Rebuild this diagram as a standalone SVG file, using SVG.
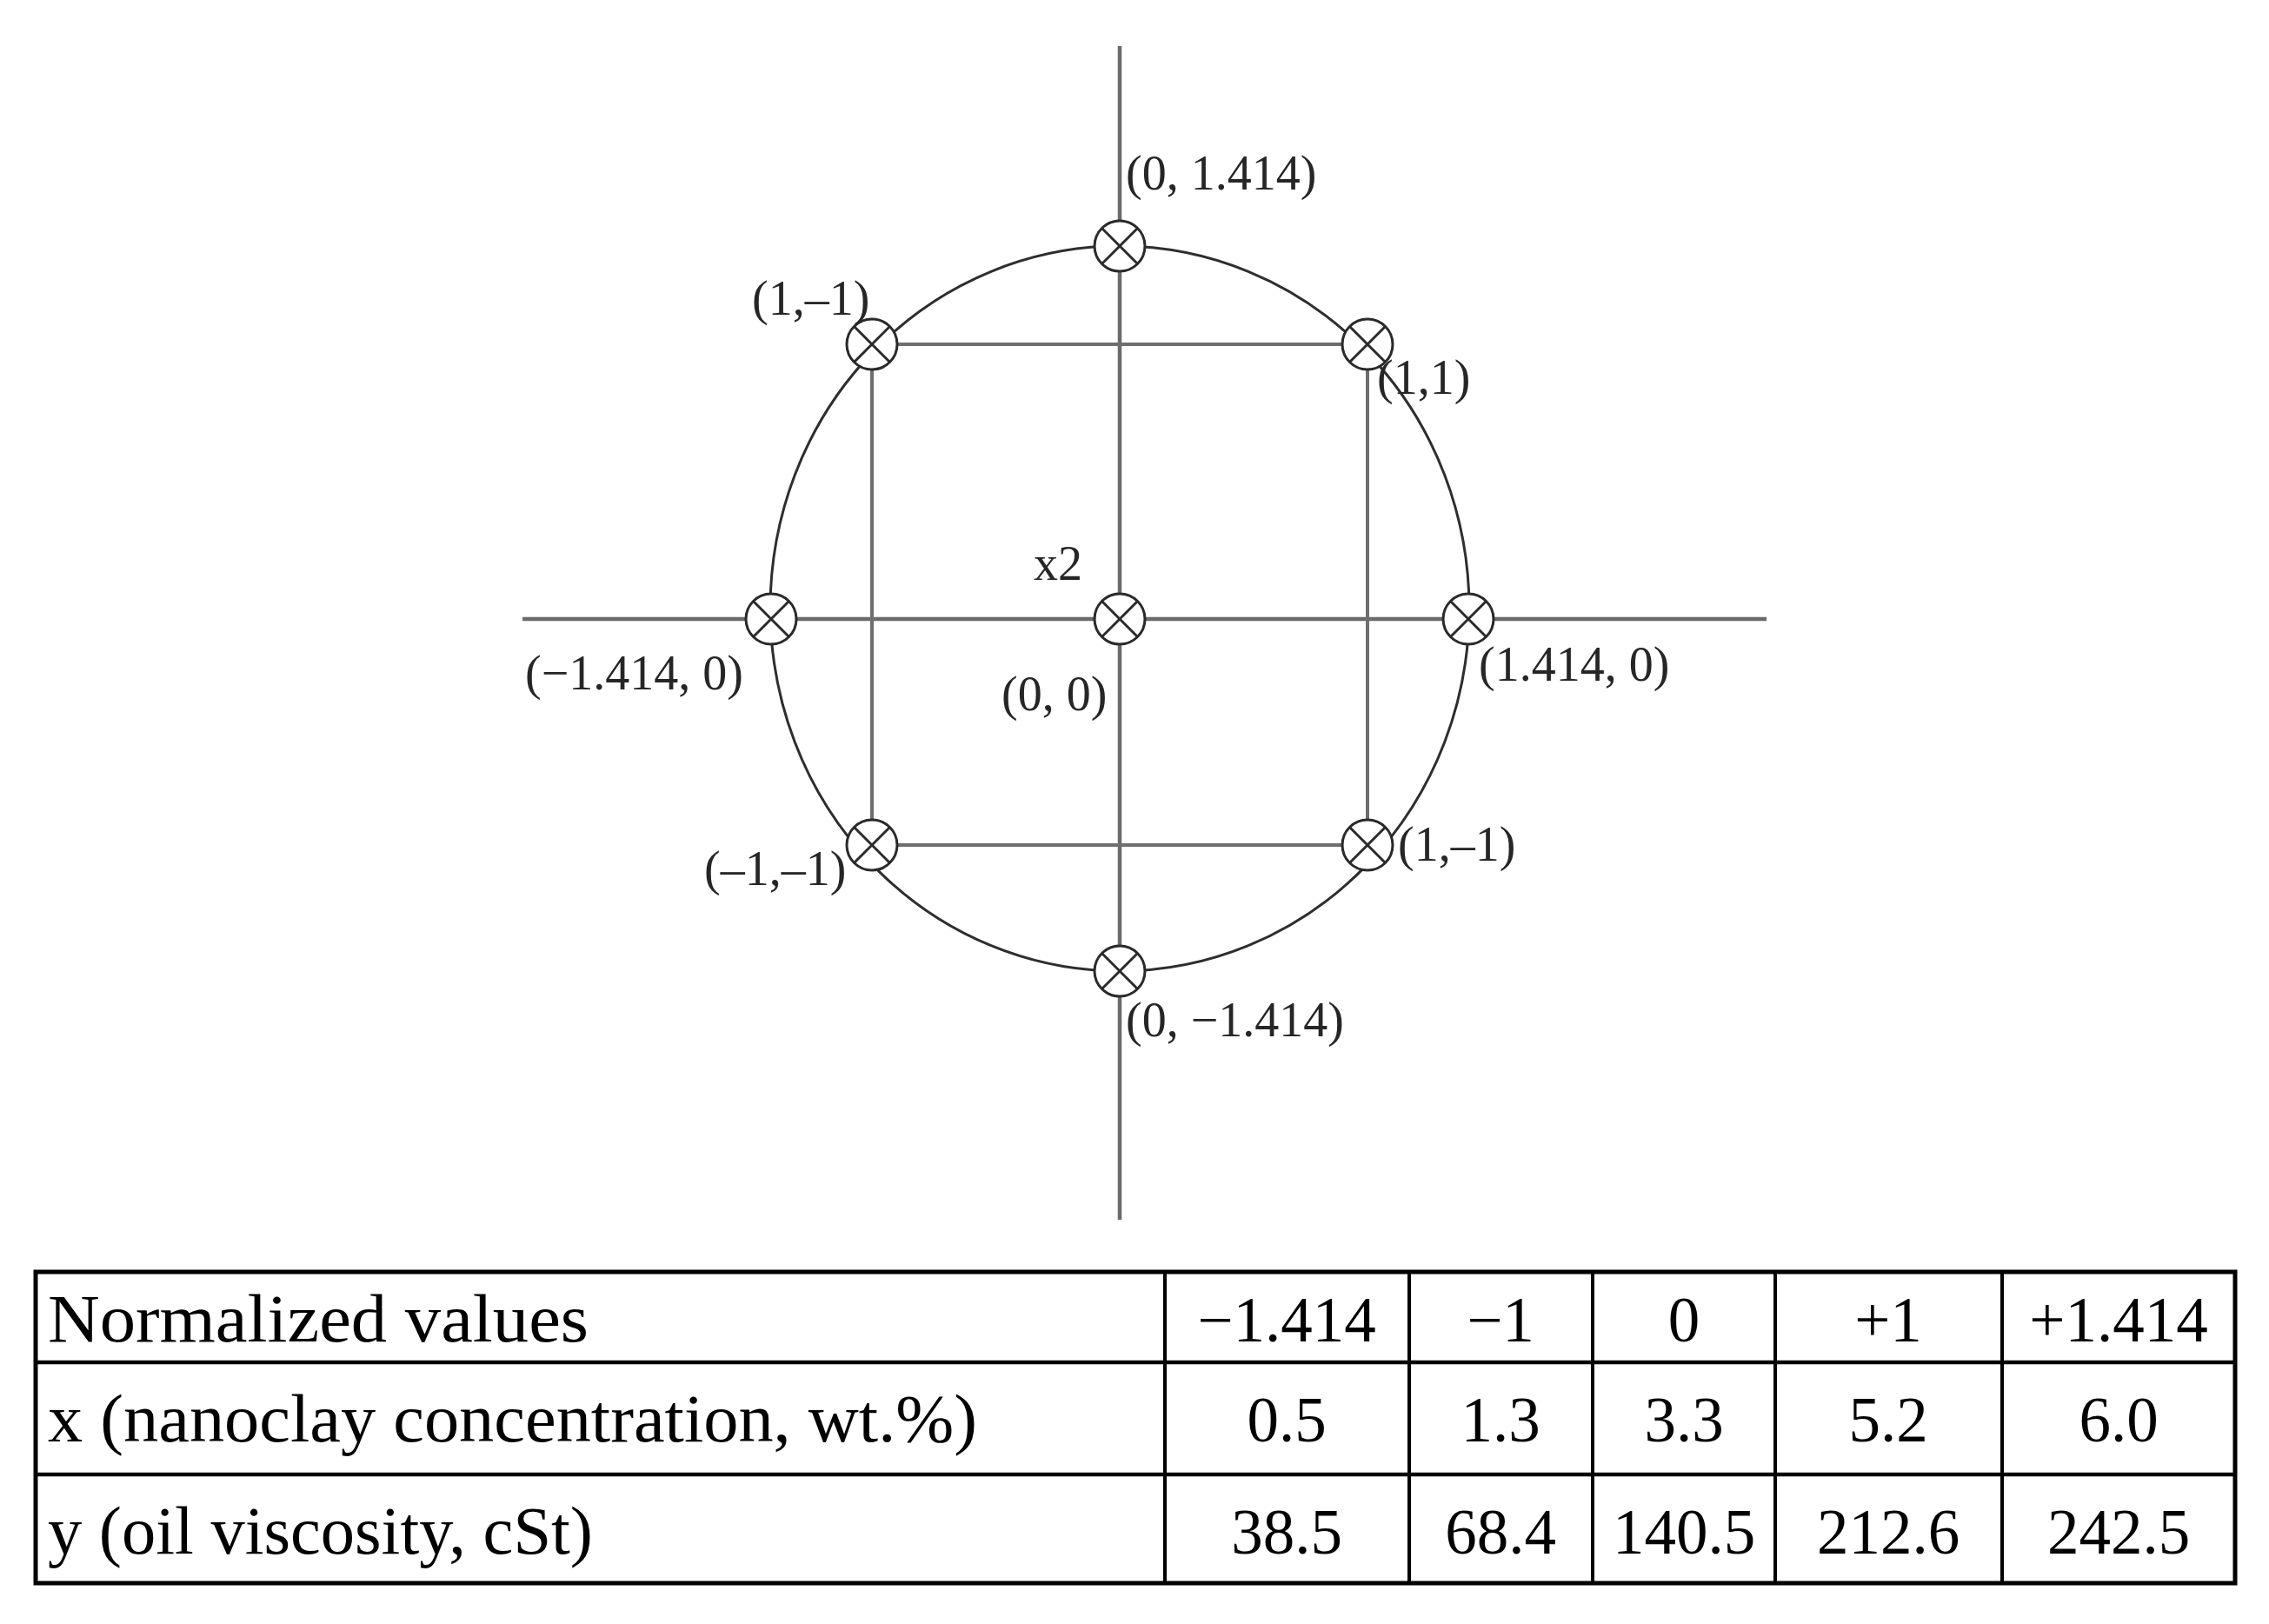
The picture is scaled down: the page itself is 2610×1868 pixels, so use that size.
<svg xmlns="http://www.w3.org/2000/svg" xmlns:xlink="http://www.w3.org/1999/xlink" width="2610" height="1868" viewBox="0 0 2610 1868">
<style>
.axis{stroke:#6a6a6a;stroke-width:4.5;fill:none}
.sq{stroke:#6e6e6e;stroke-width:4;fill:none}
.ring{stroke:#2e2e2e;stroke-width:3;fill:none}
.lbl{font-family:"Liberation Serif","Times New Roman",serif;font-size:56px;fill:#262626}
.tb{font-family:"Liberation Serif","Times New Roman",serif;font-size:73px;fill:#000}
.tc{text-anchor:middle}
.hd{font-family:"Liberation Serif","Times New Roman",serif;font-size:78px;fill:#000}
.grid{stroke:#000;fill:none}
</style>
<defs>
<g id="mk">
<circle r="29" fill="#fff" stroke="#2a2a2a" stroke-width="3"/>
<path d="M-20.5,-20.5L20.5,20.5M-20.5,20.5L20.5,-20.5" stroke="#2a2a2a" stroke-width="3"/>
</g>
</defs>
<rect width="2610" height="1868" fill="#fff"/>
<g id="connectors">
<line class="axis" x1="1288" y1="53" x2="1288" y2="1403"/>
<line class="axis" x1="601" y1="712" x2="2032" y2="712"/>
<path class="sq" d="M1003,396H1573V972H1003Z"/>
<ellipse class="ring" cx="1288" cy="700" rx="402" ry="417"/>
</g>
<g id="node-top"><use xlink:href="#mk" x="1288" y="283"/><text class="lbl" x="1295" y="218">(0, 1.414)</text></g>
<g id="node-upper-left"><use xlink:href="#mk" x="1003" y="396"/><text class="lbl" x="865" y="362">(1,–1)</text></g>
<g id="node-upper-right"><use xlink:href="#mk" x="1573" y="396"/><text class="lbl" x="1584" y="453">(1,1)</text></g>
<g id="node-left"><use xlink:href="#mk" x="887" y="712"/><text class="lbl" x="604" y="793">(−1.414, 0)</text></g>
<g id="node-center"><use xlink:href="#mk" x="1288" y="712"/><text class="lbl" x="1189" y="667">x2</text><text class="lbl" x="1152" y="817">(0, 0)</text></g>
<g id="node-right"><use xlink:href="#mk" x="1689" y="712"/><text class="lbl" x="1701" y="783">(1.414, 0)</text></g>
<g id="node-lower-left"><use xlink:href="#mk" x="1003" y="972"/><text class="lbl" x="810" y="1018">(–1,–1)</text></g>
<g id="node-lower-right"><use xlink:href="#mk" x="1573" y="972"/><text class="lbl" x="1608" y="990">(1,–1)</text></g>
<g id="node-bottom"><use xlink:href="#mk" x="1288" y="1117"/><text class="lbl" x="1295" y="1192">(0, −1.414)</text></g>
<g id="table">
<rect class="grid" x="41" y="1463" width="2530" height="358" stroke-width="5"/>
<path class="grid" stroke-width="4.5" d="M41,1567H2571M41,1696H2571"/>
<path class="grid" stroke-width="4" d="M1340,1463V1821M1621,1463V1821M1832,1463V1821M2042,1463V1821M2303,1463V1821"/>
<text class="hd" x="55" y="1543" textLength="622" lengthAdjust="spacingAndGlyphs">Normalized values</text>
<text class="hd" x="55" y="1658" textLength="1069" lengthAdjust="spacingAndGlyphs">x (nanoclay concentration, wt.%)</text>
<text class="hd" x="55" y="1787" textLength="627" lengthAdjust="spacingAndGlyphs">y (oil viscosity, cSt)</text>
<text class="tb tc" x="1480" y="1543">−1.414</text>
<text class="tb tc" x="1726" y="1543">−1</text>
<text class="tb tc" x="1937" y="1543">0</text>
<text class="tb tc" x="2172" y="1543">+1</text>
<text class="tb tc" x="2437" y="1543">+1.414</text>
<text class="tb tc" x="1480" y="1658">0.5</text>
<text class="tb tc" x="1726" y="1658">1.3</text>
<text class="tb tc" x="1937" y="1658">3.3</text>
<text class="tb tc" x="2172" y="1658">5.2</text>
<text class="tb tc" x="2437" y="1658">6.0</text>
<text class="tb tc" x="1480" y="1787">38.5</text>
<text class="tb tc" x="1726" y="1787">68.4</text>
<text class="tb tc" x="1937" y="1787">140.5</text>
<text class="tb tc" x="2172" y="1787">212.6</text>
<text class="tb tc" x="2437" y="1787">242.5</text>
</g>
</svg>
